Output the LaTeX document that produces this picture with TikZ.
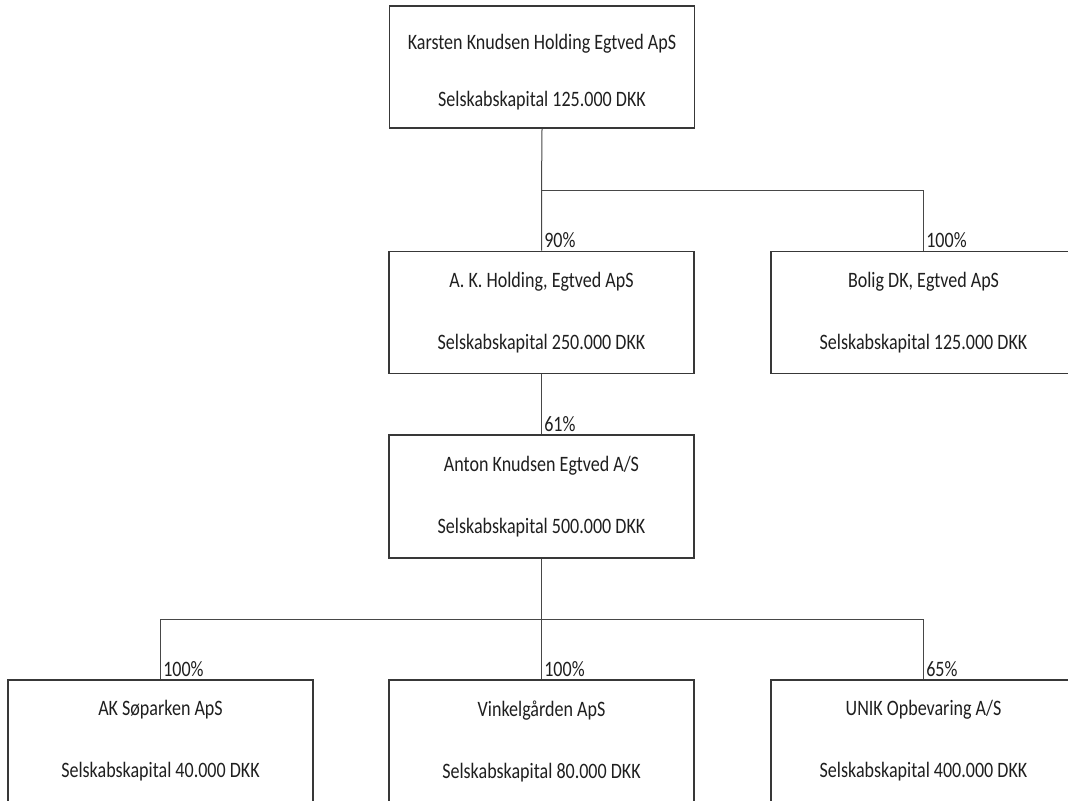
\documentclass[tikz,border=0pt]{standalone}
\usepackage{fontspec}
\setmainfont{Carlito}
\newfontfamily\narrowcal[FakeStretch=0.82]{Carlito}
\begin{document}
\begin{tikzpicture}[x=0.5pt,y=-0.5pt,
  co/.style={draw=black!78, line width=0.8pt, minimum width=152.5pt, minimum height=61pt,
    align=center, font=\narrowcal\fontsize{11}{13}\selectfont, inner sep=0pt, text=black!88},
  pct/.style={anchor=south west, inner sep=1.2pt, font=\narrowcal\fontsize{11}{13}\selectfont, text=black!88},
  link/.style={draw=black!72, line width=0.5pt}]
\useasboundingbox (0,0) rectangle (1068,800);
\clip (0,0) rectangle (1068,800);
\fill[white] (0,0) rectangle (1068,800);
\node[co] (k) at (542,67) {\rule{0pt}{12.5pt}Karsten Knudsen Holding Egtved ApS\\[15.5pt]Selskabskapital 125.000 DKK};
\node[co] (ak) at (541.5,312.5) {A. K. Holding, Egtved ApS\\[18pt]Selskabskapital 250.000 DKK};
\node[co] (bo) at (923.5,312.5) {Bolig DK, Egtved ApS\\[18pt]Selskabskapital 125.000 DKK};
\node[co, minimum height=61.5pt] (an) at (541.5,496.5) {Anton Knudsen Egtved A/S\\[18pt]Selskabskapital 500.000 DKK};
\node[co] (so) at (160.5,741) {AK Søparken ApS\\[18pt]Selskabskapital 40.000 DKK};
\node[co] (vi) at (541.5,741) {Vinkelgården ApS\\[18pt]Selskabskapital 80.000 DKK};
\node[co] (un) at (923.5,741) {UNIK Opbevaring A/S\\[18pt]Selskabskapital 400.000 DKK};
\coordinate (j1) at (541.5,190);
\coordinate (j2) at (541.5,619);
\draw[link] (k.south) -- (j1) -- (ak.north);
\draw[link] (j1) -| (bo.north);
\draw[link] (ak.south) -- (an.north);
\draw[link] (an.south) -- (j2) -- (vi.north);
\draw[link] (j2) -| (so.north);
\draw[link] (j2) -| (un.north);
\node[pct] (p1) at (ak.north) {90\%};
\node[pct] (p2) at (bo.north) {100\%};
\node[pct] (p3) at (an.north) {61\%};
\node[pct] (p4) at (so.north) {100\%};
\node[pct] (p5) at (vi.north) {100\%};
\node[pct] (p6) at (un.north) {65\%};
\end{tikzpicture}
\end{document}
